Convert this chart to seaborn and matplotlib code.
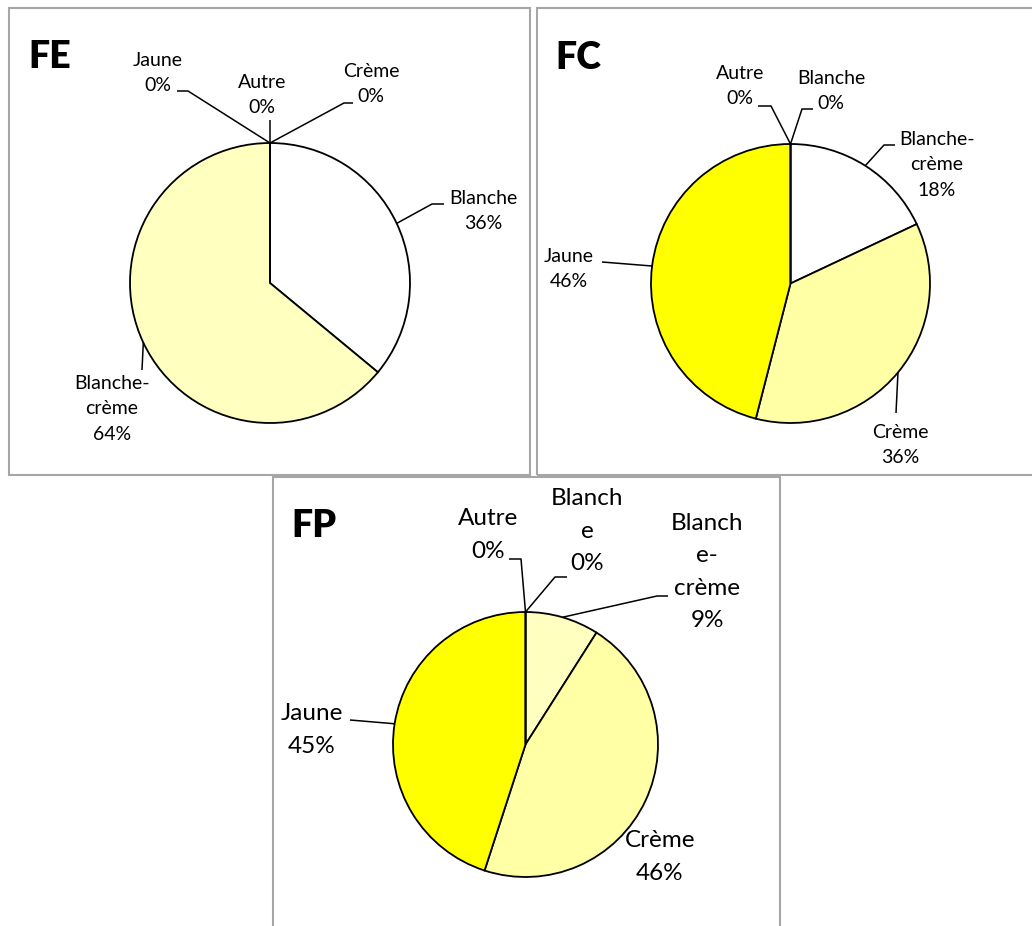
import matplotlib
matplotlib.use("Agg")
import matplotlib.pyplot as plt
from matplotlib.patches import Rectangle
import numpy as np
import seaborn as sns

# ---- data ---------------------------------------------------------------
categories = ["Blanche", "Blanche-crème", "Crème", "Jaune", "Autre"]
panel_names = ["FE", "FC", "FP"]
fe_values = [36, 64, 0, 0, 0]
fc_values = [0, 18, 36, 46, 0]
fp_values = [0, 9, 46, 45, 0]

fe_colors = ["#FFFFFF", "#FFFFC0", "#FFFFA6", "#FFFF00", "#FFFFFF"]
fc_colors = ["#FFFFFF", "#FFFFFF", "#FFFFA6", "#FFFF00", "#FFFFFF"]
fp_colors = ["#FFFFFF", "#FFFFC0", "#FFFFA6", "#FFFF00", "#FFFFFF"]

# ---- style --------------------------------------------------------------
sns.set_theme(style="white")
plt.rcParams["font.family"] = ["Lato", "DejaVu Sans"]

W, H = 1032, 926
fig = plt.figure(figsize=(W / 100, H / 100), dpi=100)
ax = fig.add_axes([0, 0, 1, 1])
ax.set_xlim(0, W)
ax.set_ylim(0, H)
ax.set_aspect("equal")
ax.axis("off")


def Y(py):
    """Convert a top-down pixel row into the axes' upward y coordinate."""
    return H - py


def wrap(name, width):
    """Break a category name after hyphens, then into chunks of `width`."""
    parts = name.replace("-", "-\n").split("\n")
    out = []
    for p in parts:
        while len(p) > width:
            out.append(p[:width])
            p = p[width:]
        out.append(p)
    return "\n".join(out)


# layout for each panel: frame, pie centre/radius, title, label placement
layouts = {
    "FE": dict(
        frame=(9, 8, 530, 475), center=(270, 283), radius=140,
        title=(28, 68), fontsize=14, wrapw=8, linesp=1.62,
        labels={
            "Blanche": ((483, 211), [(432, 204), (444, 204)]),
            "Blanche-crème": ((112, 409), [(142, 370)]),
            "Crème": ((371, 84), [(344, 103), (353, 103)]),
            "Jaune": ((158, 73), [(188, 91), (177, 91)]),
            "Autre": ((262, 95), [(270, 120)]),
        },
    ),
    "FC": dict(
        frame=(537, 8, 1040, 475), center=(790.5, 283.5), radius=139.5,
        title=(555, 69), fontsize=14, wrapw=8, linesp=1.62,
        labels={
            "Blanche": ((831, 91), [(802, 109), (813, 109)]),
            "Blanche-crème": ((937, 165), [(884, 145), (895, 145)]),
            "Crème": ((900, 445), [(896, 413)]),
            "Jaune": ((569, 269), [(602, 262)]),
            "Autre": ((740, 86), [(771, 106), (758, 106)]),
        },
    ),
    "FP": dict(
        frame=(273, 477, 780, 940), center=(525.5, 744.5), radius=132.5,
        title=(291, 537), fontsize=17.5, wrapw=6, linesp=1.66,
        labels={
            "Blanche": ((587, 531), [(555, 577), (567, 577)]),
            "Blanche-crème": ((707, 572), [(657, 596), (668, 596)]),
            "Crème": ((660, 857), None),
            "Jaune": ((312, 730), [(350, 720)]),
            "Autre": ((488, 535), [(521, 559), (509, 559)]),
        },
    ),
}

panels = {
    "FE": (fe_values, fe_colors),
    "FC": (fc_values, fc_colors),
    "FP": (fp_values, fp_colors),
}

for name in panel_names:
    values, colors = panels[name]
    lay = layouts[name]
    x0, y0, x1, y1 = lay["frame"]
    ax.add_patch(Rectangle((x0, Y(y1)), x1 - x0, y1 - y0, fill=False,
                           edgecolor="#A6A6A6", linewidth=1.5, zorder=1,
                           clip_on=False))

    cx, cy = lay["center"]
    r = lay["radius"]
    wedges, _ = ax.pie(values, colors=colors, startangle=90,
                       counterclock=False, center=(cx, Y(cy)), radius=r,
                       wedgeprops=dict(edgecolor="black", linewidth=1.3),
                       frame=True)

    total = float(sum(values))
    for cat, val, wdg in zip(categories, values, wedges):
        (tx, ty), elbows = lay["labels"][cat]
        pct = int(round(100 * val / total))
        ax.text(tx, Y(ty), f"{wrap(cat, lay['wrapw'])}\n{pct}%",
                ha="center", va="center", multialignment="center",
                fontsize=lay["fontsize"], color="black",
                linespacing=lay["linesp"], zorder=5)
        if elbows:
            ang = np.deg2rad((wdg.theta1 + wdg.theta2) / 2)
            ax_pt = (cx + r * np.cos(ang), Y(cy) + r * np.sin(ang))
            xs = [ax_pt[0]] + [p[0] for p in elbows]
            ys = [ax_pt[1]] + [Y(p[1]) for p in elbows]
            ax.plot(xs, ys, color="black", linewidth=1.1, zorder=4,
                    solid_capstyle="butt")

    tx, ty = lay["title"]
    ax.text(tx, Y(ty), name, ha="left", va="baseline", fontsize=27,
            fontweight="heavy", color="black")

ax.set_xlim(0, W)
ax.set_ylim(0, H)
ax.axis("off")
fig.savefig("out.png", dpi=100)
